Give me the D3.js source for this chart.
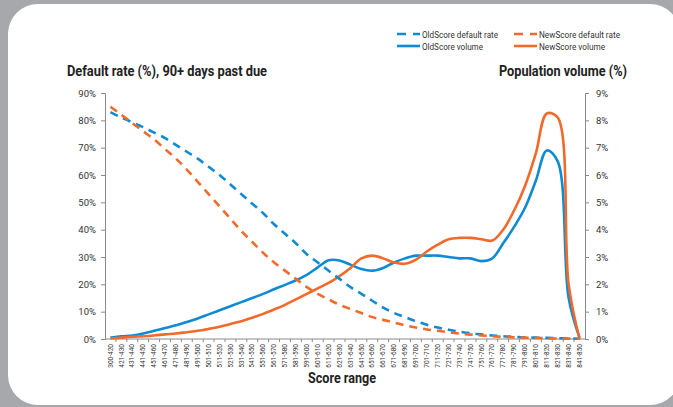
<!DOCTYPE html>
<html><head><meta charset="utf-8">
<script src="https://cdn.jsdelivr.net/npm/d3@7"></script>
<style>html,body{margin:0;padding:0;background:#a7a8ab;}svg{display:block;}</style>
</head><body>
<script>
const categories = ["300-420","421-430","431-440","441-450","451-460","461-470","471-480","481-490","491-500","501-510","511-520","521-530","531-540","541-550","551-560","561-570","571-580","581-590","591-600","601-610","611-620","621-630","631-640","641-650","651-660","661-670","671-680","681-690","691-700","701-710","711-720","721-730","731-740","741-750","751-760","761-770","771-780","781-790","791-800","801-810","811-820","821-830","831-840","841-850"];
const oldDefault = [83,81,79.3,77.5,75.5,73.5,71,68.5,66,63,60,56.5,53,49.5,46,42,38.5,35,31,28,25,22,19,16.5,14,11.5,9.5,8,6.5,5.2,4.2,3.4,2.7,2.1,1.7,1.3,1.0,0.8,0.6,0.5,0.4,0.3,0.2,0.1];
const newDefault = [85,82,79,76,73,69.5,66,62,57.5,53,48.5,44,39.5,35.5,31.5,28,25,22,19,16.5,14.5,12.5,11,9.5,8,7,6,5,4.2,3.5,3,2.5,2,1.6,1.3,1.0,0.8,0.6,0.5,0.4,0.3,0.2,0.15,0.1];
const oldVolume = [0.05,0.1,0.13,0.2,0.3,0.4,0.5,0.62,0.75,0.9,1.05,1.2,1.35,1.5,1.65,1.82,1.98,2.15,2.35,2.62,2.88,2.87,2.72,2.56,2.5,2.6,2.8,2.95,3.05,3.05,3.05,3.0,2.95,2.95,2.85,2.95,3.5,4.1,4.8,5.8,6.9,6.5,1.5,0.05];
const newVolume = [0.02,0.05,0.08,0.1,0.13,0.17,0.2,0.25,0.3,0.37,0.45,0.55,0.65,0.78,0.92,1.08,1.25,1.45,1.65,1.85,2.05,2.3,2.6,2.95,3.05,2.95,2.8,2.75,2.9,3.2,3.45,3.65,3.7,3.7,3.65,3.6,4.0,4.7,5.6,6.8,8.25,8.1,2.0,0.0];
const leftTicks = [0,10,20,30,40,50,60,70,80,90];
const rightTicks = [0,1,2,3,4,5,6,7,8,9];
const seriesNames = ["OldScore default rate","NewScore default rate","OldScore volume","NewScore volume"];
const titles = {left:"Default rate (%), 90+ days past due", right:"Population volume (%)", x:"Score range"};

const W=673,H=407;
const BLUE="#0e8bd3", ORANGE="#f26a2a";
const FONT='Roboto,"Liberation Sans",sans-serif';
const svg=d3.select("body").append("svg").attr("width",W).attr("height",H);
svg.append("rect").attr("width",W).attr("height",H).attr("fill","#a7a8ab");
svg.append("rect").attr("x",8).attr("y",4).attr("width",672).attr("height",401).attr("rx",30).attr("fill","#fff");

const L=105,R=585,T=93,B=339;
const x=d3.scaleBand().domain(categories).range([L,R]);
const cx=c=>x(c)+x.bandwidth()/2;
const yL=d3.scaleLinear().domain([0,90]).range([B,T]);
const yR=d3.scaleLinear().domain([0,9]).range([B,T]);

// axes
const axisColor="#8a8a8a";
const gl=svg.append("g").attr("transform",`translate(${L},0)`).call(d3.axisLeft(yL).tickValues(leftTicks).tickSize(4).tickFormat(d=>d+"%"));
const gr=svg.append("g").attr("transform",`translate(${R},0)`).call(d3.axisRight(yR).tickValues(rightTicks).tickSize(4).tickFormat(d=>d+"%"));
[gl,gr].forEach(g=>{g.select(".domain").attr("stroke",axisColor);g.selectAll(".tick line").attr("stroke",axisColor);
  g.selectAll("text").attr("font-family",FONT).attr("font-size",9.5).attr("fill","#333");});
gl.selectAll("text").attr("x",-9);
gr.selectAll("text").attr("x",11);

const gx=svg.append("g").attr("transform",`translate(0,${B})`);
gx.append("line").attr("x1",L).attr("x2",R).attr("stroke",axisColor);
gx.selectAll(".tk").data(categories.slice(1)).enter().append("line")
  .attr("x1",d=>x(d)).attr("x2",d=>x(d)).attr("y1",0).attr("y2",3).attr("stroke",axisColor);
gx.selectAll(".lbl").data(categories).enter().append("text")
  .attr("transform",d=>`translate(${cx(d)+2.2},5) rotate(-90)`)
  .attr("text-anchor","end").attr("font-family",FONT).attr("font-size",6.5).attr("fill","#333").text(d=>d);

// lines
const mk=(vals,ys)=>d3.line().x((d,i)=>cx(categories[i])).y(d=>ys(d)).curve(d3.curveCatmullRom.alpha(0.5))(vals);
svg.append("path").attr("d",mk(oldVolume,yR)).attr("fill","none").attr("stroke",BLUE).attr("stroke-width",2.6);
svg.append("path").attr("d",mk(newVolume,yR)).attr("fill","none").attr("stroke",ORANGE).attr("stroke-width",2.6);
svg.append("path").attr("d",mk(oldDefault,yL)).attr("fill","none").attr("stroke",BLUE).attr("stroke-width",2.6).attr("stroke-dasharray","8,6");
svg.append("path").attr("d",mk(newDefault,yL)).attr("fill","none").attr("stroke",ORANGE).attr("stroke-width",2.6).attr("stroke-dasharray","8,6");

// titles
svg.append("text").attr("x",67).attr("y",76).attr("font-family",FONT).attr("font-weight","bold").attr("font-size",14.5).attr("fill","#222")
  .attr("textLength",200).attr("lengthAdjust","spacingAndGlyphs").text(titles.left);
svg.append("text").attr("x",499).attr("y",76).attr("font-family",FONT).attr("font-weight","bold").attr("font-size",14.5).attr("fill","#222")
  .attr("textLength",128).attr("lengthAdjust","spacingAndGlyphs").text(titles.right);
svg.append("text").attr("x",342).attr("y",383).attr("text-anchor","middle").attr("font-family",FONT).attr("font-weight","bold").attr("font-size",14.5).attr("fill","#222")
  .attr("textLength",68).attr("lengthAdjust","spacingAndGlyphs").text(titles.x);

// legend
const leg=[{n:seriesNames[0],c:BLUE,d:true,x:397,y:34,w:76},{n:seriesNames[1],c:ORANGE,d:true,x:514,y:34,w:81},
           {n:seriesNames[2],c:BLUE,d:false,x:397,y:46,w:61},{n:seriesNames[3],c:ORANGE,d:false,x:514,y:46,w:66}];
const lg=svg.append("g").selectAll("g").data(leg).enter().append("g");
lg.append("line").attr("x1",d=>d.x).attr("x2",d=>d.x+23).attr("y1",d=>d.y).attr("y2",d=>d.y)
  .attr("stroke",d=>d.c).attr("stroke-width",2.6).attr("stroke-dasharray",d=>d.d?"9,7":null);
lg.append("text").attr("x",d=>d.x+25).attr("y",d=>d.y+3.5).attr("font-family",FONT).attr("font-size",9.5).attr("fill","#333")
  .attr("textLength",d=>d.w).attr("lengthAdjust","spacingAndGlyphs").text(d=>d.n);
</script>
</body></html>
